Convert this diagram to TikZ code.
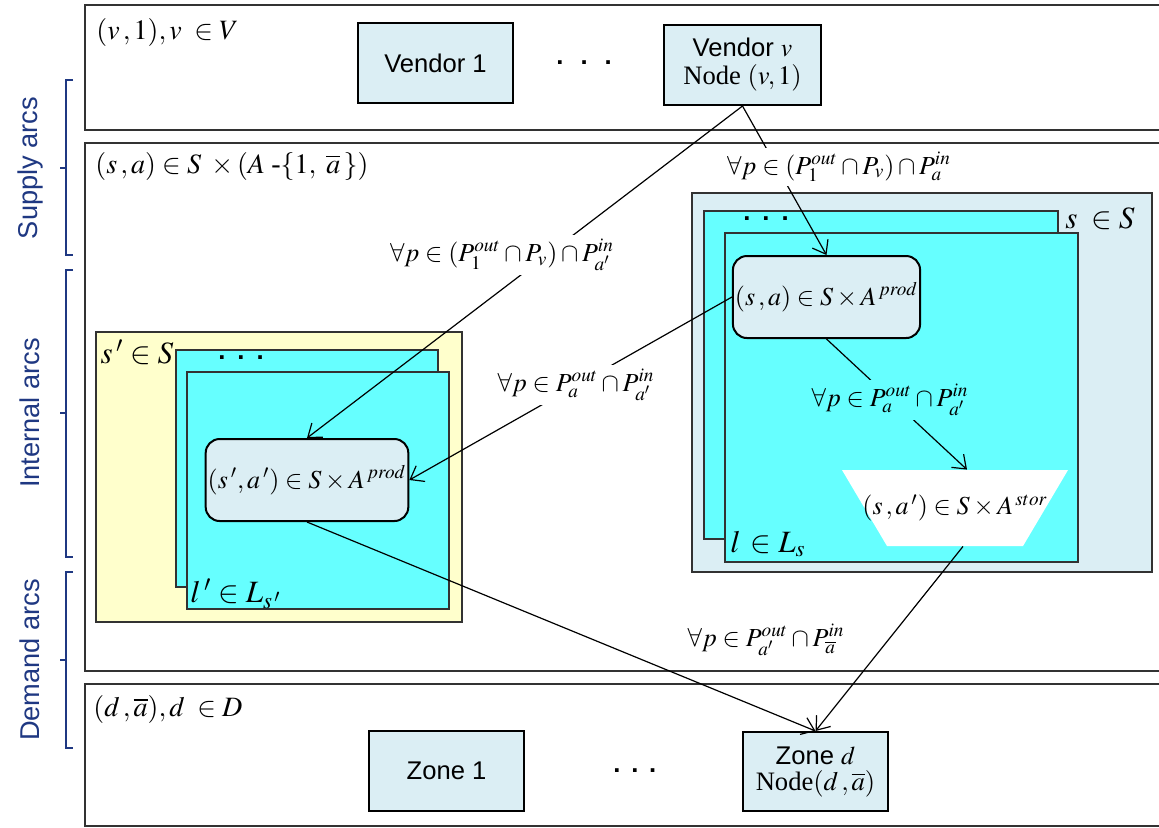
\documentclass[tikz,border=0pt]{standalone}
\usepackage{mathptmx}
\usepackage{fontspec}
\setmainfont{Liberation Serif}
\setsansfont{Liberation Sans}
\usetikzlibrary{positioning,arrows.meta}
\definecolor{BoxBlue}{RGB}{219,238,244}
\definecolor{LayerCyan}{RGB}{102,255,255}
\definecolor{SiteYellow}{RGB}{255,255,204}
\definecolor{BandGrey}{RGB}{50,50,50}
\definecolor{ArcNavy}{RGB}{31,56,130}
\newcommand{\stackdots}[1]{\textbf{.}\hspace{#1}\textbf{.}\hspace{#1}\textbf{.}}
\tikzset{
  band/.style={draw=BandGrey,line width=0.6pt},
  sitebox/.style={draw=BandGrey,line width=0.8pt},
  layerbox/.style={draw=BandGrey,line width=0.9pt,fill=LayerCyan},
  vendorbox/.style={draw=black,line width=1pt,fill=BoxBlue,inner sep=1pt,
    minimum width=77.5pt,minimum height=40pt,align=center,
    font=\sffamily\fontsize{12.8}{15}\selectfont},
  prodbox/.style={draw=black,line width=1pt,fill=BoxBlue,rounded corners=7pt,
    minimum height=41pt,inner sep=1pt,font=\fontsize{13}{15}\selectfont},
  storbox/.style={rectangle,inner sep=0pt,minimum width=113pt,minimum height=38pt,
    font=\fontsize{13}{15}\selectfont,
    path picture={\fill[white] (path picture bounding box.north west)
      -- (path picture bounding box.north east)
      -- ([xshift=-22.5pt]path picture bounding box.south east)
      -- ([xshift=22.5pt]path picture bounding box.south west) -- cycle;}},
  arc/.style={-{Straight Barb[length=6pt,width=9pt]},line width=0.6pt},
  arclabel/.style={fill=white,inner sep=2pt,font=\fontsize{13}{14}\selectfont},
  setlabel/.style={anchor=west,inner sep=0pt,font=\fontsize{14}{16}\selectfont},
  stacklabel/.style={inner sep=0pt,font=\fontsize{15.5}{18}\selectfont},
  dotsnode/.style={inner sep=0pt,font=\sffamily\fontsize{12.8}{15}\selectfont},
  bracket/.style={draw=ArcNavy,line width=0.8pt},
  bracketlabel/.style={rotate=90,text=ArcNavy,font=\sffamily\fontsize{13.6}{15}\selectfont}
}

\begin{document}
\begin{tikzpicture}[x=0.5pt,y=-0.5pt]
  \useasboundingbox (0,0) rectangle (1159,827);
  % layers of the network
  \draw[band] (85,5) rectangle (1170,130);
  \draw[band] (85,143) rectangle (1170,671);
  \draw[band] (85,684) rectangle (1170,826);
  \node[setlabel] (vlayer) at (96,32) {$(v\,,1),v\;\in V$};
  \node[setlabel] (salayer) at (95,166) {$(s\,,a)\in S\;\times(A\;\mbox{-}\{1,\ \overline{a}\,\})$};
  \node[setlabel] (dlayer) at (93,709) {$(d\,,\overline{a}),d\;\in D$};

  % sites
  \draw[sitebox,fill=BoxBlue] (692,193) rectangle (1152,572);
  \draw[layerbox] (704,211) rectangle (1058,539);
  \draw[layerbox] (725,233) rectangle (1078,562);
  \draw[sitebox,fill=SiteYellow] (96,332) rectangle (462,622);
  \draw[layerbox] (176,350) rectangle (438,587);
  \draw[layerbox] (187,372) rectangle (449,609);
  \node[stacklabel] (ssite) at (1100,219) {$s\;\in S$};
  \node[stacklabel] (spsite) at (137,352) {$s\,'\in S$};
  \node[stacklabel] (lline) at (768,544) {$l\,\in L_s$};
  \node[stacklabel] (lpline) at (236,594) {$l\,'\in L_{s\,'}$};
  \node[dotsnode] (sdots) at (766,219) {\stackdots{6pt}};
  \node[dotsnode] (spdots) at (241,358) {\stackdots{6pt}};

  % nodes
  \node[vendorbox] (vend1) at (435.5,63) {Vendor 1};
  \node[dotsnode,right=21pt of vend1] (vdots) {\stackdots{8.5pt}};
  \node[vendorbox,minimum width=78.5pt] (vendv) at (742.5,65)
    {Vendor $v$\\[-1pt]{\rmfamily\fontsize{13.3}{15}\selectfont Node $(v,1)$}};
  \node[prodbox,minimum width=91.5pt] (sa) at (826.5,297) {$(s\,,a)\in S\times A^{\,prod}$};
  \node[prodbox,minimum width=95pt] (spa) at (307,480) {$(s\,',a\,')\in S\times A^{\,prod}$};
  \node[storbox] (trap) at (955,508) {$(s\,,a\,')\in S\times A^{\,stor}$};
  \node[vendorbox] (zone1) at (446.5,771) {Zone 1};
  \node[dotsnode,right=44pt of zone1] (zdots) {\stackdots{5.4pt}};
  \node[vendorbox,minimum width=72.5pt,minimum height=39.5pt] (zoned) at (815.5,771.5)
    {Zone $d$\\[-2pt]{\rmfamily\fontsize{13.3}{15}\selectfont Node$(d\,,\overline{a})$}};

  % arcs
  \draw[arc] (vendv.south) -- (sa.north);
  \draw[arc] (vendv.south) -- (spa.north);
  \draw[arc] (sa.west) -- (spa.east);
  \draw[arc] (sa.south) -- ([xshift=6pt]trap.north);
  \draw[arc] ([xshift=4pt]trap.south) -- (zoned.north);
  \draw[arc] (spa.south) -- (zoned.north);
  \node[arclabel] (supplyv) at (839,167) {$\forall p\in(P_1^{out}\cap P_v)\cap P_a^{in}$};
  \node[arclabel] (supplyvp) at (502,255) {$\forall p\in(P_1^{out}\cap P_v)\cap P_{a'}^{in}$};
  \node[arclabel] (internal) at (576,385) {$\forall p\in P_a^{out}\cap P_{a'}^{in}$};
  \node[arclabel,fill=LayerCyan] (internals) at (890,400) {$\forall p\in P_a^{out}\cap P_{a'}^{in}$};
  \node[arclabel] (demand) at (766,640) {$\forall p\in P_{a'}^{out}\cap P_{\overline{a}}^{in}$};

  % arc classes
  \draw[bracket] (73,80) -- (66,80) -- (66,255) -- (73,255) (66,168) -- (60,168);
  \draw[bracket] (73,270) -- (66,270) -- (66,557) -- (73,557) (66,413) -- (60,413);
  \draw[bracket] (73,572) -- (66,572) -- (66,748) -- (73,748) (66,660) -- (60,660);
  \node[bracketlabel] (supply) at (30,168) {Supply arcs};
  \node[bracketlabel] (internalarcs) at (30,413) {Internal arcs};
  \node[bracketlabel] (demandarcs) at (30,660) {Demand arcs};
\end{tikzpicture}
\end{document}
